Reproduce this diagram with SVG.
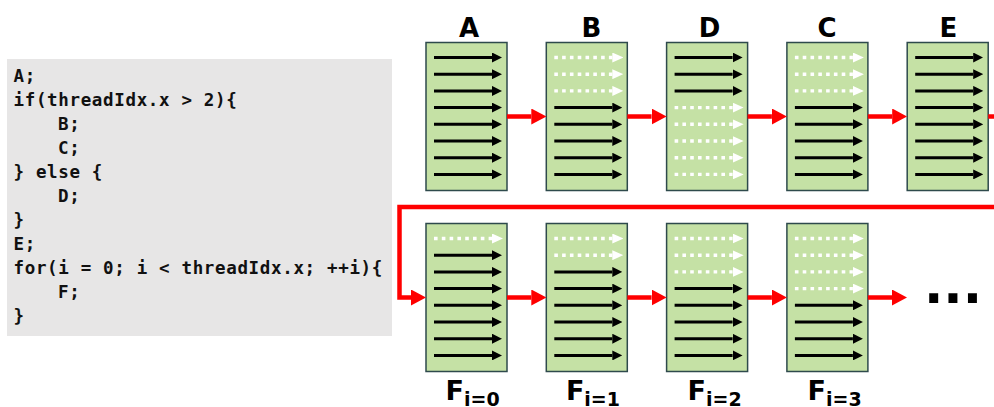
<svg xmlns="http://www.w3.org/2000/svg" width="994" height="407" viewBox="0 0 994 407">
  <style>
    .code { font-family: "DejaVu Sans Mono", "Liberation Mono", monospace; font-weight: bold; font-size: 17.5px; letter-spacing: 0.66px; fill: #111; }
    .lbl { font-family: "DejaVu Sans", "Liberation Sans", sans-serif; font-weight: bold; font-size: 26px; fill: #000; }
    .flbl { font-family: "DejaVu Sans", "Liberation Sans", sans-serif; font-weight: bold; font-size: 27px; fill: #000; }
    .sub { font-size: 19px; }
    .warp { fill: #c5e1a5; stroke: #2e4a4c; stroke-width: 1.5; }
    .on { stroke: #000; stroke-width: 3; fill: none; marker-end: url(#headBlack); }
    .off { stroke: #fff; stroke-width: 3.4; fill: none; stroke-dasharray: 3.6 4.2; marker-end: url(#headWhite); }
    .flow { stroke: #ff0000; stroke-width: 4.5; fill: none; marker-end: url(#headRed); }
  </style>
  <defs>
    <marker id="headBlack" markerUnits="userSpaceOnUse" markerWidth="10" markerHeight="10" refX="0" refY="5" orient="auto">
      <path d="M0,0 L10,5 L0,10 z" fill="#000"/>
    </marker>
    <marker id="headWhite" markerUnits="userSpaceOnUse" markerWidth="11" markerHeight="10" refX="0" refY="5" orient="auto">
      <path d="M0,0 L11,5 L0,10 z" fill="#fff"/>
    </marker>
    <marker id="headRed" markerUnits="userSpaceOnUse" markerWidth="15" markerHeight="16" refX="0" refY="8" orient="auto">
      <path d="M0,0 L15,8 L0,16 z" fill="#ff0000"/>
    </marker>
  </defs>

  <!-- source code panel -->
  <g id="code">
    <rect x="7" y="59" width="385" height="277" fill="#e7e6e6"/>
    <text class="code" x="13.5" y="81.5">A;</text>
    <text class="code" x="13.5" y="105.5">if(threadIdx.x &gt; 2){</text>
    <text class="code" x="58" y="129.6">B;</text>
    <text class="code" x="58" y="153.6">C;</text>
    <text class="code" x="13.5" y="177.7">} else {</text>
    <text class="code" x="58" y="201.7">D;</text>
    <text class="code" x="13.5" y="225.8">}</text>
    <text class="code" x="13.5" y="249.8">E;</text>
    <text class="code" x="13.5" y="273.9">for(i = 0; i &lt; threadIdx.x; ++i){</text>
    <text class="code" x="58" y="297.9">F;</text>
    <text class="code" x="13.5" y="322">}</text>
  </g>

  <!-- top row: A, B, D, C, E -->
  <g id="nodeA">
    <text class="lbl" x="469" y="36.5" text-anchor="middle">A</text>
    <rect class="warp" x="426" y="42.5" width="81" height="148"/>
    <path class="on" d="M434,57.5 H492"/>
    <path class="on" d="M434,74.2 H492"/>
    <path class="on" d="M434,90.9 H492"/>
    <path class="on" d="M434,107.6 H492"/>
    <path class="on" d="M434,124.3 H492"/>
    <path class="on" d="M434,141 H492"/>
    <path class="on" d="M434,157.7 H492"/>
    <path class="on" d="M434,174.4 H492"/>
  </g>
  <g id="nodeB">
    <text class="lbl" x="591.5" y="36.5" text-anchor="middle">B</text>
    <rect class="warp" x="546.3" y="42.5" width="81" height="148"/>
    <path class="off" d="M554.3,57.5 H612.3"/>
    <path class="off" d="M554.3,74.2 H612.3"/>
    <path class="off" d="M554.3,90.9 H612.3"/>
    <path class="on" d="M554.3,107.6 H612.3"/>
    <path class="on" d="M554.3,124.3 H612.3"/>
    <path class="on" d="M554.3,141 H612.3"/>
    <path class="on" d="M554.3,157.7 H612.3"/>
    <path class="on" d="M554.3,174.4 H612.3"/>
  </g>
  <g id="nodeD">
    <text class="lbl" x="709.5" y="36.5" text-anchor="middle">D</text>
    <rect class="warp" x="666.6" y="42.5" width="81" height="148"/>
    <path class="on" d="M674.6,57.5 H732.6"/>
    <path class="on" d="M674.6,74.2 H732.6"/>
    <path class="on" d="M674.6,90.9 H732.6"/>
    <path class="off" d="M674.6,107.6 H732.6"/>
    <path class="off" d="M674.6,124.3 H732.6"/>
    <path class="off" d="M674.6,141 H732.6"/>
    <path class="off" d="M674.6,157.7 H732.6"/>
    <path class="off" d="M674.6,174.4 H732.6"/>
  </g>
  <g id="nodeC">
    <text class="lbl" x="827" y="36.5" text-anchor="middle">C</text>
    <rect class="warp" x="786.9" y="42.5" width="81" height="148"/>
    <path class="off" d="M794.9,57.5 H852.9"/>
    <path class="off" d="M794.9,74.2 H852.9"/>
    <path class="off" d="M794.9,90.9 H852.9"/>
    <path class="on" d="M794.9,107.6 H852.9"/>
    <path class="on" d="M794.9,124.3 H852.9"/>
    <path class="on" d="M794.9,141 H852.9"/>
    <path class="on" d="M794.9,157.7 H852.9"/>
    <path class="on" d="M794.9,174.4 H852.9"/>
  </g>
  <g id="nodeE">
    <text class="lbl" x="948.5" y="36.5" text-anchor="middle">E</text>
    <rect class="warp" x="907.2" y="42.5" width="81" height="148"/>
    <path class="on" d="M915.2,57.5 H973.2"/>
    <path class="on" d="M915.2,74.2 H973.2"/>
    <path class="on" d="M915.2,90.9 H973.2"/>
    <path class="on" d="M915.2,107.6 H973.2"/>
    <path class="on" d="M915.2,124.3 H973.2"/>
    <path class="on" d="M915.2,141 H973.2"/>
    <path class="on" d="M915.2,157.7 H973.2"/>
    <path class="on" d="M915.2,174.4 H973.2"/>
  </g>

  <!-- bottom row: loop iterations of F -->
  <g id="nodeF0">
    <rect class="warp" x="426" y="223.5" width="81" height="148"/>
    <path class="off" d="M434,238.5 H492"/>
    <path class="on" d="M434,255.2 H492"/>
    <path class="on" d="M434,271.9 H492"/>
    <path class="on" d="M434,288.6 H492"/>
    <path class="on" d="M434,305.3 H492"/>
    <path class="on" d="M434,322 H492"/>
    <path class="on" d="M434,338.7 H492"/>
    <path class="on" d="M434,355.4 H492"/>
    <text class="flbl" x="445.6" y="400">F<tspan class="sub" y="406">i=0</tspan></text>
  </g>
  <g id="nodeF1">
    <rect class="warp" x="546.3" y="223.5" width="81" height="148"/>
    <path class="off" d="M554.3,238.5 H612.3"/>
    <path class="off" d="M554.3,255.2 H612.3"/>
    <path class="on" d="M554.3,271.9 H612.3"/>
    <path class="on" d="M554.3,288.6 H612.3"/>
    <path class="on" d="M554.3,305.3 H612.3"/>
    <path class="on" d="M554.3,322 H612.3"/>
    <path class="on" d="M554.3,338.7 H612.3"/>
    <path class="on" d="M554.3,355.4 H612.3"/>
    <text class="flbl" x="565.9" y="400">F<tspan class="sub" y="406">i=1</tspan></text>
  </g>
  <g id="nodeF2">
    <rect class="warp" x="666.6" y="223.5" width="81" height="148"/>
    <path class="off" d="M674.6,238.5 H732.6"/>
    <path class="off" d="M674.6,255.2 H732.6"/>
    <path class="off" d="M674.6,271.9 H732.6"/>
    <path class="on" d="M674.6,288.6 H732.6"/>
    <path class="on" d="M674.6,305.3 H732.6"/>
    <path class="on" d="M674.6,322 H732.6"/>
    <path class="on" d="M674.6,338.7 H732.6"/>
    <path class="on" d="M674.6,355.4 H732.6"/>
    <text class="flbl" x="687.6" y="400">F<tspan class="sub" y="406">i=2</tspan></text>
  </g>
  <g id="nodeF3">
    <rect class="warp" x="786.9" y="223.5" width="81" height="148"/>
    <path class="off" d="M794.9,238.5 H852.9"/>
    <path class="off" d="M794.9,255.2 H852.9"/>
    <path class="off" d="M794.9,271.9 H852.9"/>
    <path class="off" d="M794.9,288.6 H852.9"/>
    <path class="on" d="M794.9,305.3 H852.9"/>
    <path class="on" d="M794.9,322 H852.9"/>
    <path class="on" d="M794.9,338.7 H852.9"/>
    <path class="on" d="M794.9,355.4 H852.9"/>
    <text class="flbl" x="807.6" y="400">F<tspan class="sub" y="406">i=3</tspan></text>
  </g>
  <g id="more">
    <text class="lbl" x="924" y="303" style="font-size:51px">...</text>
  </g>

  <!-- execution order -->
  <g id="connectors">
    <path class="flow" d="M507,116.5 H531.3"/>
    <path class="flow" d="M627.3,116.5 H651.6"/>
    <path class="flow" d="M747.6,116.5 H771.9"/>
    <path class="flow" d="M867.9,116.5 H892.2"/>
    <path class="flow" d="M988.2,116.5 H1002 V207 H399.5 V297.5 H411" stroke-linejoin="miter"/>
    <path class="flow" d="M507,297.5 H531.3"/>
    <path class="flow" d="M627.3,297.5 H651.6"/>
    <path class="flow" d="M747.6,297.5 H771.9"/>
    <path class="flow" d="M867.9,297.5 H892"/>
  </g>
</svg>
